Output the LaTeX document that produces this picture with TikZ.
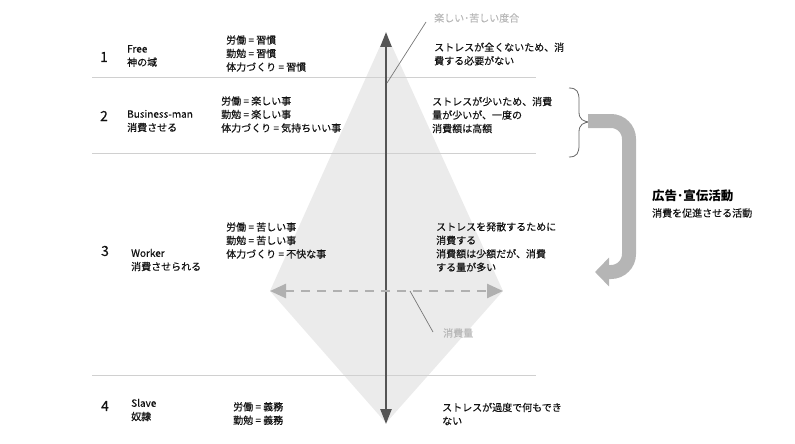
\documentclass[tikz,border=0pt]{standalone}
\usepackage{fontspec}
\setmainfont{Noto Sans CJK JP}[UprightFeatures={FakeBold=0.35}]
\usetikzlibrary{arrows.meta}
\definecolor{diafill}{HTML}{EBEBEB}
\definecolor{sepcol}{HTML}{D0D0D0}
\definecolor{axiscol}{HTML}{555555}
\definecolor{dashcol}{HTML}{B0B0B0}
\definecolor{bigcol}{HTML}{B5B5B5}
\definecolor{textcol}{HTML}{111111}
\definecolor{lblcol}{HTML}{B8B8B8}
\definecolor{ptrcol}{HTML}{777777}
\definecolor{bracecol}{HTML}{666666}
\begin{document}
\begin{tikzpicture}[x=1pt,y=-1pt,
  txt/.style={anchor=west, inner sep=0pt, align=left, text=textcol, font=\fontsize{10}{13.5}\selectfont},
  num/.style={inner sep=0pt, text=textcol, font=\fontsize{14}{14}\selectfont},
  lbl/.style={anchor=west, inner sep=0pt, text=lblcol, font=\fontsize{10}{12}\selectfont},
  sepline/.style={draw=sepcol, line width=0.8pt},
  axisarrow/.style={draw=axiscol, line width=2.4pt, {Triangle[length=15pt,width=11pt]}-{Triangle[length=15pt,width=11pt]}},
  dasharrow/.style={draw=dashcol, line width=2.5pt, dash pattern=on 9pt off 7pt, {Triangle[length=16pt,width=14pt]}-{Triangle[length=16pt,width=14pt]}},
  pointer/.style={draw=ptrcol, line width=0.7pt},
  bigarrow/.style={draw=bigcol, line width=14pt, rounded corners=18pt, -{Triangle[length=14pt,width=28pt]}},
  bracestyle/.style={draw=bracecol, line width=0.8pt}
]
\useasboundingbox (0,0) rectangle (795,444);

% diamond
\coordinate (dtop) at (386,33);
\coordinate (dright) at (503,291);
\coordinate (dbot) at (386,423);
\coordinate (dleft) at (270,291);
\fill[diafill] (dtop) -- (dright) -- (dbot) -- (dleft) -- cycle;

% separator lines
\draw[sepline] (92,77) -- (536,77);
\draw[sepline] (92,153) -- (536,153);
\draw[sepline] (92,375) -- (536,375);

% axes
\coordinate (atop) at (386,32);
\coordinate (abot) at (386,424);
\draw[axisarrow] (abot) -- (atop);
\draw[dasharrow] (dleft) -- (dright);

% pointer labels
\coordinate (p1a) at (387,83);
\coordinate (p1b) at (426,22);
\draw[pointer] (p1a) -- (p1b);
\node[lbl] (lblfun) at (434,18) {楽しい･苦しい度合};
\coordinate (p2a) at (410,291);
\coordinate (p2b) at (433,332);
\draw[pointer] (p2a) -- (p2b);
\node[lbl] (lblcons) at (443,333) {消費量};

% numbers
\node[num] (n1) at (104,57) {1};
\node[num] (n2) at (104,116) {2};
\node[num] (n3) at (105,251) {3};
\node[num] (n4) at (105,406) {4};

% names
\node[txt] (t1) at (127,56) {Free\\神の域};
\node[txt] (t2) at (127,121) {Business-man\\消費させる};
\node[txt] (t3) at (131,260) {Worker\\消費させられる};
\node[txt] (t4) at (131,410) {Slave\\奴隷};

% middle texts
\node[txt] (m1) at (226,53.5) {労働 = 習慣\\勤勉 = 習慣\\体力づくり = 習慣};
\node[txt] (m2) at (221,114.5) {労働 = 楽しい事\\勤勉 = 楽しい事\\体力づくり = 気持ちいい事};
\node[txt] (m3) at (226,240.5) {労働 = 苦しい事\\勤勉 = 苦しい事\\体力づくり = 不快な事};
\node[txt] (m4) at (233,413.5) {労働 = 義務\\勤勉 = 義務};

% right texts
\node[txt] (r1) at (434,54) {ストレスが全くないため、消\\費する必要がない};
\node[txt] (r2) at (432,115) {ストレスが少いため、消費\\量が少いが、一度の\\消費額は高額};
\node[txt] (r3) at (436,247) {ストレスを発散するために\\消費する\\消費額は少額だが、消費\\する量が多い};
\node[txt] (r4) at (442,414) {ストレスが過度で何もでき\\ない};

% brace
\coordinate (brtop) at (569,88);
\coordinate (brbot) at (569,157);
\coordinate (bt) at (591,122);
\draw[bracestyle] (brtop) .. controls (577,88) and (579,92) .. (579,100) -- (579,112) .. controls (579,119) and (583,122) .. (bt) .. controls (583,122) and (579,125) .. (579,132) -- (579,145) .. controls (579,153) and (577,157) .. (brbot);

% big arrow
\coordinate (bstart) at (588,121);
\coordinate (aend) at (595,272);
\draw[bigarrow] (bstart) -- ++(41,0) |- (aend);

% heading
\node[anchor=west, inner sep=0pt, text=black, font=\fontsize{12.5}{14}\selectfont\bfseries] (head) at (652,196) {広告･宣伝活動};
\node[anchor=west, inner sep=0pt, text=textcol, font=\fontsize{10}{12}\selectfont] (sub) at (652,213) {消費を促進させる活動};
\end{tikzpicture}
\end{document}
